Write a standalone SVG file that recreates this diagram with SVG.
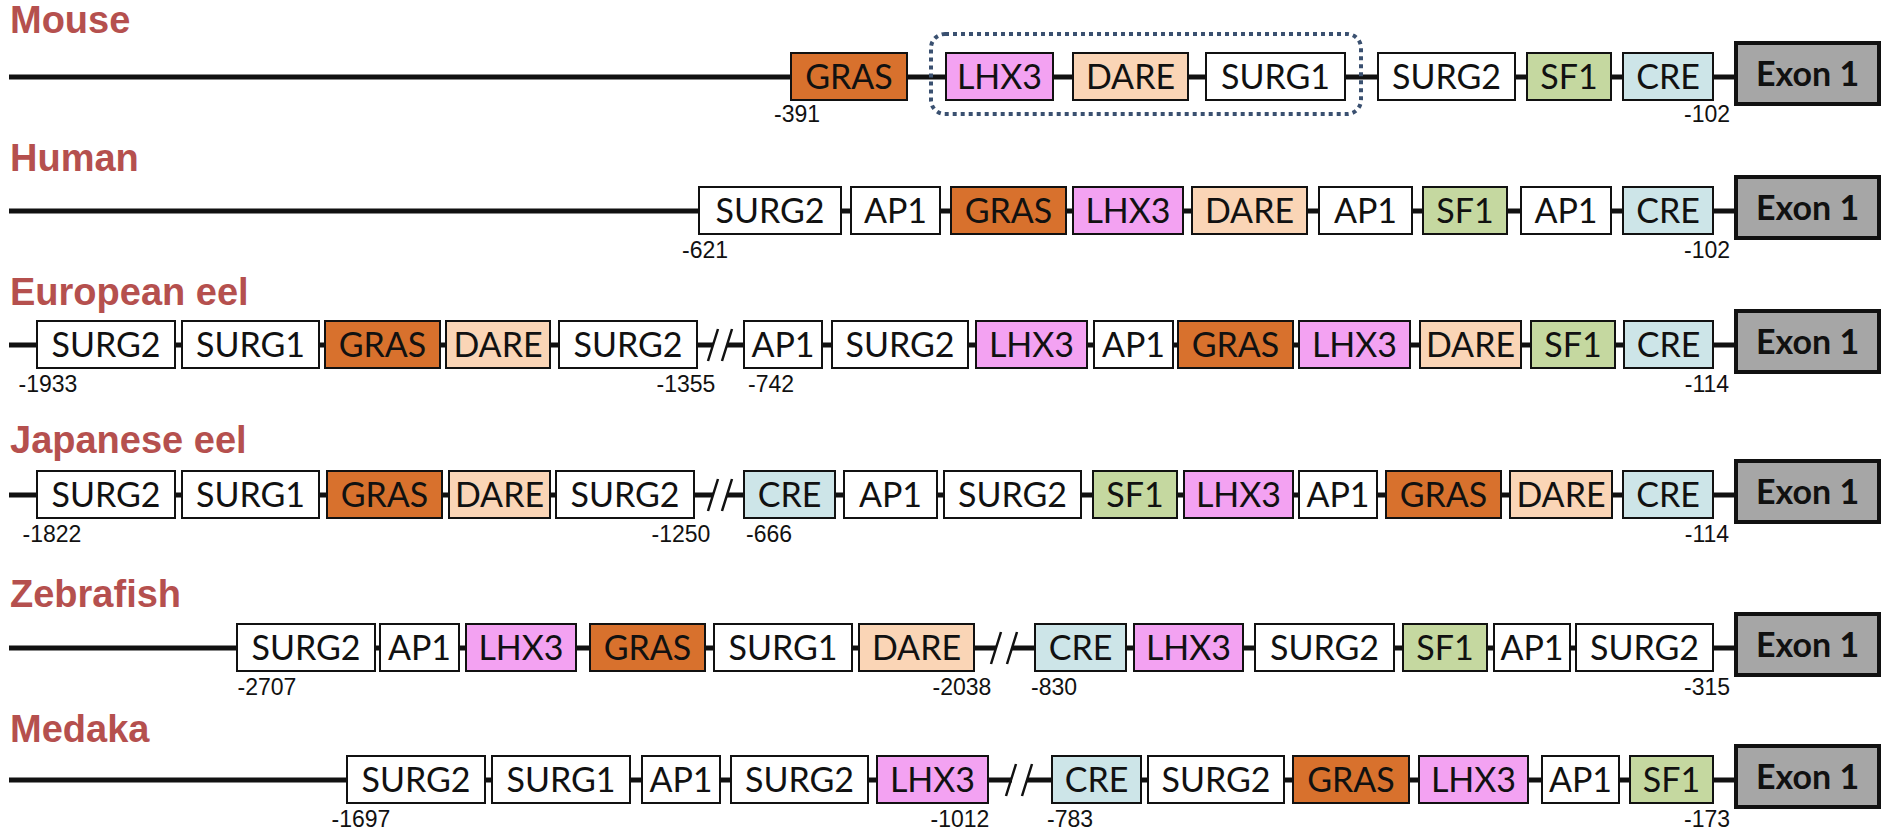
<svg xmlns="http://www.w3.org/2000/svg" width="1890" height="831" viewBox="0 0 1890 831">
<style>
.bg{fill:#ffffff}
.title{font-family:"Liberation Sans",Arial,sans-serif;font-weight:bold;font-size:38px;fill:#B5504E}
.bb{stroke:#111;stroke-width:2}
.w{fill:#ffffff}
.gras{fill:#D8712D}
.lhx3{fill:#F3A2F2}
.dare{fill:#FAD5B6}
.sf1{fill:#C5D8A0}
.cre{fill:#CDE5E8}
.exon{fill:#A6A6A6;stroke:#111;stroke-width:4}
.bt{font-family:Lato,"Open Sans",sans-serif;font-size:34px;fill:#111;text-anchor:middle}
.et{font-family:Lato,"Open Sans",sans-serif;font-weight:bold;font-size:34px;fill:#111;text-anchor:middle}
.lab{font-family:"Liberation Sans",Arial,sans-serif;font-size:23px;fill:#111;text-anchor:middle}
.ln{stroke:#111;stroke-width:5;fill:none}
.sl{stroke:#111;stroke-width:2.5;fill:none}
.dot{fill:none;stroke:#3A5070;stroke-width:4;stroke-dasharray:4 4}
</style>
<rect class="bg" width="1890" height="831"/>

<g id="connectors">
  <line class="ln" x1="9" y1="77" x2="1736" y2="77"/>
  <line class="ln" x1="9" y1="211" x2="1736" y2="211"/>
  <line class="ln" x1="9" y1="345" x2="713" y2="345"/>
  <line class="ln" x1="727" y1="345" x2="1736" y2="345"/>
  <path class="sl" d="M708,361 L718,329 M722,361 L732,329"/>
  <line class="ln" x1="9" y1="495" x2="713" y2="495"/>
  <line class="ln" x1="727" y1="495" x2="1736" y2="495"/>
  <path class="sl" d="M708,511 L718,479 M722,511 L732,479"/>
  <line class="ln" x1="9" y1="648" x2="996" y2="648"/>
  <line class="ln" x1="1012" y1="648" x2="1736" y2="648"/>
  <path class="sl" d="M991,664 L1001,632 M1007,664 L1017,632"/>
  <line class="ln" x1="9" y1="780" x2="1012" y2="780"/>
  <line class="ln" x1="1027" y1="780" x2="1736" y2="780"/>
  <path class="sl" d="M1006,796 L1016,764 M1022,796 L1032,764"/>
</g>

<g id="mouse">
  <text class="title" x="10" y="33">Mouse</text>
  <rect class="dot" x="931" y="34" width="430" height="80" rx="14"/>
  <rect class="bb gras" x="791" y="53" width="116" height="47"/><text class="bt" x="849" y="89">GRAS</text>
  <rect class="bb lhx3" x="946" y="53" width="107" height="47"/><text class="bt" x="999.5" y="89">LHX3</text>
  <rect class="bb dare" x="1073" y="53" width="115" height="47"/><text class="bt" x="1130.5" y="89">DARE</text>
  <rect class="bb w" x="1206" y="53" width="139" height="47"/><text class="bt" x="1275.5" y="89">SURG1</text>
  <rect class="bb w" x="1378" y="53" width="137" height="47"/><text class="bt" x="1446.5" y="89">SURG2</text>
  <rect class="bb sf1" x="1527" y="53" width="84" height="47"/><text class="bt" x="1569" y="89">SF1</text>
  <rect class="bb cre" x="1623" y="53" width="90" height="47"/><text class="bt" x="1668" y="89">CRE</text>
  <rect class="exon" x="1736" y="43" width="143" height="61"/><text class="et" x="1807.5" y="86">Exon 1</text>
  <text class="lab" x="797" y="122">-391</text>
  <text class="lab" x="1707" y="122">-102</text>
</g>

<g id="human">
  <text class="title" x="10" y="171">Human</text>
  <rect class="bb w" x="699" y="187" width="142" height="47"/><text class="bt" x="770" y="223">SURG2</text>
  <rect class="bb w" x="851" y="187" width="89" height="47"/><text class="bt" x="895.5" y="223">AP1</text>
  <rect class="bb gras" x="951" y="187" width="115" height="47"/><text class="bt" x="1008.5" y="223">GRAS</text>
  <rect class="bb lhx3" x="1073" y="187" width="110" height="47"/><text class="bt" x="1128" y="223">LHX3</text>
  <rect class="bb dare" x="1192" y="187" width="115" height="47"/><text class="bt" x="1249.5" y="223">DARE</text>
  <rect class="bb w" x="1319" y="187" width="93" height="47"/><text class="bt" x="1365.5" y="223">AP1</text>
  <rect class="bb sf1" x="1423" y="187" width="84" height="47"/><text class="bt" x="1465" y="223">SF1</text>
  <rect class="bb w" x="1521" y="187" width="90" height="47"/><text class="bt" x="1566" y="223">AP1</text>
  <rect class="bb cre" x="1623" y="187" width="90" height="47"/><text class="bt" x="1668" y="223">CRE</text>
  <rect class="exon" x="1736" y="177" width="143" height="61"/><text class="et" x="1807.5" y="220">Exon 1</text>
  <text class="lab" x="705" y="258">-621</text>
  <text class="lab" x="1707" y="258">-102</text>
</g>

<g id="european-eel">
  <text class="title" x="10" y="305">European eel</text>
  <rect class="bb w" x="37" y="321" width="138" height="47"/><text class="bt" x="106" y="357">SURG2</text>
  <rect class="bb w" x="182" y="321" width="137" height="47"/><text class="bt" x="250.5" y="357">SURG1</text>
  <rect class="bb gras" x="325" y="321" width="115" height="47"/><text class="bt" x="382.5" y="357">GRAS</text>
  <rect class="bb dare" x="446" y="321" width="104" height="47"/><text class="bt" x="498" y="357">DARE</text>
  <rect class="bb w" x="559" y="321" width="138" height="47"/><text class="bt" x="628" y="357">SURG2</text>
  <rect class="bb w" x="744" y="321" width="78" height="47"/><text class="bt" x="783" y="357">AP1</text>
  <rect class="bb w" x="832" y="321" width="136" height="47"/><text class="bt" x="900" y="357">SURG2</text>
  <rect class="bb lhx3" x="976" y="321" width="111" height="47"/><text class="bt" x="1031.5" y="357">LHX3</text>
  <rect class="bb w" x="1094" y="321" width="79" height="47"/><text class="bt" x="1133.5" y="357">AP1</text>
  <rect class="bb gras" x="1178" y="321" width="115" height="47"/><text class="bt" x="1235.5" y="357">GRAS</text>
  <rect class="bb lhx3" x="1299" y="321" width="111" height="47"/><text class="bt" x="1354.5" y="357">LHX3</text>
  <rect class="bb dare" x="1420" y="321" width="101" height="47"/><text class="bt" x="1470.5" y="357">DARE</text>
  <rect class="bb sf1" x="1531" y="321" width="84" height="47"/><text class="bt" x="1573" y="357">SF1</text>
  <rect class="bb cre" x="1624" y="321" width="89" height="47"/><text class="bt" x="1668.5" y="357">CRE</text>
  <rect class="exon" x="1736" y="311" width="143" height="61"/><text class="et" x="1807.5" y="354">Exon 1</text>
  <text class="lab" x="48" y="392">-1933</text>
  <text class="lab" x="686" y="392">-1355</text>
  <text class="lab" x="771" y="392">-742</text>
  <text class="lab" x="1707" y="392">-114</text>
</g>

<g id="japanese-eel">
  <text class="title" x="10" y="453">Japanese eel</text>
  <rect class="bb w" x="37" y="471" width="138" height="47"/><text class="bt" x="106" y="507">SURG2</text>
  <rect class="bb w" x="182" y="471" width="137" height="47"/><text class="bt" x="250.5" y="507">SURG1</text>
  <rect class="bb gras" x="327" y="471" width="115" height="47"/><text class="bt" x="384.5" y="507">GRAS</text>
  <rect class="bb dare" x="449" y="471" width="101" height="47"/><text class="bt" x="499.5" y="507">DARE</text>
  <rect class="bb w" x="556" y="471" width="138" height="47"/><text class="bt" x="625" y="507">SURG2</text>
  <rect class="bb cre" x="744" y="471" width="91" height="47"/><text class="bt" x="789.5" y="507">CRE</text>
  <rect class="bb w" x="844" y="471" width="93" height="47"/><text class="bt" x="890.5" y="507">AP1</text>
  <rect class="bb w" x="944" y="471" width="137" height="47"/><text class="bt" x="1012.5" y="507">SURG2</text>
  <rect class="bb sf1" x="1093" y="471" width="84" height="47"/><text class="bt" x="1135" y="507">SF1</text>
  <rect class="bb lhx3" x="1184" y="471" width="109" height="47"/><text class="bt" x="1238.5" y="507">LHX3</text>
  <rect class="bb w" x="1299" y="471" width="78" height="47"/><text class="bt" x="1338" y="507">AP1</text>
  <rect class="bb gras" x="1386" y="471" width="115" height="47"/><text class="bt" x="1443.5" y="507">GRAS</text>
  <rect class="bb dare" x="1510" y="471" width="102" height="47"/><text class="bt" x="1561" y="507">DARE</text>
  <rect class="bb cre" x="1623" y="471" width="90" height="47"/><text class="bt" x="1668" y="507">CRE</text>
  <rect class="exon" x="1736" y="461" width="143" height="61"/><text class="et" x="1807.5" y="504">Exon 1</text>
  <text class="lab" x="52" y="542">-1822</text>
  <text class="lab" x="681" y="542">-1250</text>
  <text class="lab" x="769" y="542">-666</text>
  <text class="lab" x="1707" y="542">-114</text>
</g>

<g id="zebrafish">
  <text class="title" x="10" y="607">Zebrafish</text>
  <rect class="bb w" x="237" y="624" width="138" height="47"/><text class="bt" x="306" y="660">SURG2</text>
  <rect class="bb w" x="380" y="624" width="79" height="47"/><text class="bt" x="419.5" y="660">AP1</text>
  <rect class="bb lhx3" x="466" y="624" width="110" height="47"/><text class="bt" x="521" y="660">LHX3</text>
  <rect class="bb gras" x="590" y="624" width="115" height="47"/><text class="bt" x="647.5" y="660">GRAS</text>
  <rect class="bb w" x="714" y="624" width="138" height="47"/><text class="bt" x="783" y="660">SURG1</text>
  <rect class="bb dare" x="859" y="624" width="115" height="47"/><text class="bt" x="916.5" y="660">DARE</text>
  <rect class="bb cre" x="1035" y="624" width="91" height="47"/><text class="bt" x="1080.5" y="660">CRE</text>
  <rect class="bb lhx3" x="1134" y="624" width="109" height="47"/><text class="bt" x="1188.5" y="660">LHX3</text>
  <rect class="bb w" x="1255" y="624" width="139" height="47"/><text class="bt" x="1324.5" y="660">SURG2</text>
  <rect class="bb sf1" x="1403" y="624" width="84" height="47"/><text class="bt" x="1445" y="660">SF1</text>
  <rect class="bb w" x="1494" y="624" width="76" height="47"/><text class="bt" x="1532" y="660">AP1</text>
  <rect class="bb w" x="1576" y="624" width="137" height="47"/><text class="bt" x="1644.5" y="660">SURG2</text>
  <rect class="exon" x="1736" y="614" width="143" height="61"/><text class="et" x="1807.5" y="657">Exon 1</text>
  <text class="lab" x="267" y="695">-2707</text>
  <text class="lab" x="962" y="695">-2038</text>
  <text class="lab" x="1054" y="695">-830</text>
  <text class="lab" x="1707" y="695">-315</text>
</g>

<g id="medaka">
  <text class="title" x="10" y="742">Medaka</text>
  <rect class="bb w" x="347" y="756" width="138" height="47"/><text class="bt" x="416" y="792">SURG2</text>
  <rect class="bb w" x="492" y="756" width="138" height="47"/><text class="bt" x="561" y="792">SURG1</text>
  <rect class="bb w" x="642" y="756" width="78" height="47"/><text class="bt" x="681" y="792">AP1</text>
  <rect class="bb w" x="731" y="756" width="137" height="47"/><text class="bt" x="799.5" y="792">SURG2</text>
  <rect class="bb lhx3" x="877" y="756" width="111" height="47"/><text class="bt" x="932.5" y="792">LHX3</text>
  <rect class="bb cre" x="1052" y="756" width="89" height="47"/><text class="bt" x="1096.5" y="792">CRE</text>
  <rect class="bb w" x="1148" y="756" width="136" height="47"/><text class="bt" x="1216" y="792">SURG2</text>
  <rect class="bb gras" x="1293" y="756" width="116" height="47"/><text class="bt" x="1351" y="792">GRAS</text>
  <rect class="bb lhx3" x="1419" y="756" width="109" height="47"/><text class="bt" x="1473.5" y="792">LHX3</text>
  <rect class="bb w" x="1542" y="756" width="77" height="47"/><text class="bt" x="1580.5" y="792">AP1</text>
  <rect class="bb sf1" x="1630" y="756" width="83" height="47"/><text class="bt" x="1671.5" y="792">SF1</text>
  <rect class="exon" x="1736" y="746" width="143" height="61"/><text class="et" x="1807.5" y="789">Exon 1</text>
  <text class="lab" x="361" y="827">-1697</text>
  <text class="lab" x="960" y="827">-1012</text>
  <text class="lab" x="1070" y="827">-783</text>
  <text class="lab" x="1707" y="827">-173</text>
</g>
</svg>
